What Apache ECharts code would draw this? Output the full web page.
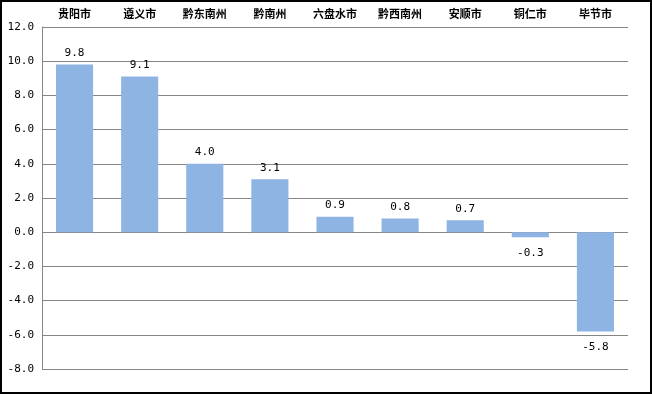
<!DOCTYPE html>
<html><head><meta charset="utf-8">
<script src="https://cdn.jsdelivr.net/npm/echarts@6/dist/echarts.min.js"></script>
<style>
html,body{margin:0;padding:0;background:#fff;}
#c{width:652px;height:394px;box-sizing:border-box;border:2px solid #000;}
</style></head>
<body><div id="c"></div>
<script>
const categories = ['贵阳市','遵义市','黔东南州','黔南州','六盘水市','黔西南州','安顺市','铜仁市','毕节市'];
const values = [9.8, 9.1, 4.0, 3.1, 0.9, 0.8, 0.7, -0.3, -5.8];
const yMin = -8, yMax = 12, yStep = 2;

const chart = echarts.init(document.getElementById('c'), null, {renderer:'canvas'});
chart.setOption({
  animation: false,
  grid: {left: 40, right: 22, top: 25, bottom: 23},
  xAxis: {
    type: 'category', data: categories, position: 'top',
    axisLine: {show: false}, axisTick: {show: false},
    axisLabel: {margin: 8, fontFamily: 'Noto Sans CJK SC', fontWeight: 'bold', fontSize: 11, color: '#000'}
  },
  yAxis: {
    type: 'value', min: yMin, max: yMax, interval: yStep,
    axisLine: {show: true, lineStyle: {color: '#868686'}},
    axisTick: {show: false},
    splitLine: {lineStyle: {color: '#868686', width: 1}},
    axisLabel: {margin: 8, fontFamily: 'DejaVu Sans Mono', fontSize: 11, color: '#000', formatter: v => v.toFixed(1)}
  },
  series: [{
    type: 'bar', barWidth: '57%',
    data: values.map(v => ({value: v, label: v >= 0 ? {position: 'top', distance: 6} : {position: 'bottom', distance: 10}})),
    itemStyle: {color: '#8EB4E3'},
    label: {show: true, fontFamily: 'DejaVu Sans Mono', fontSize: 11, color: '#000', formatter: p => p.value.toFixed(1)}
  }]
});
</script></body></html>
